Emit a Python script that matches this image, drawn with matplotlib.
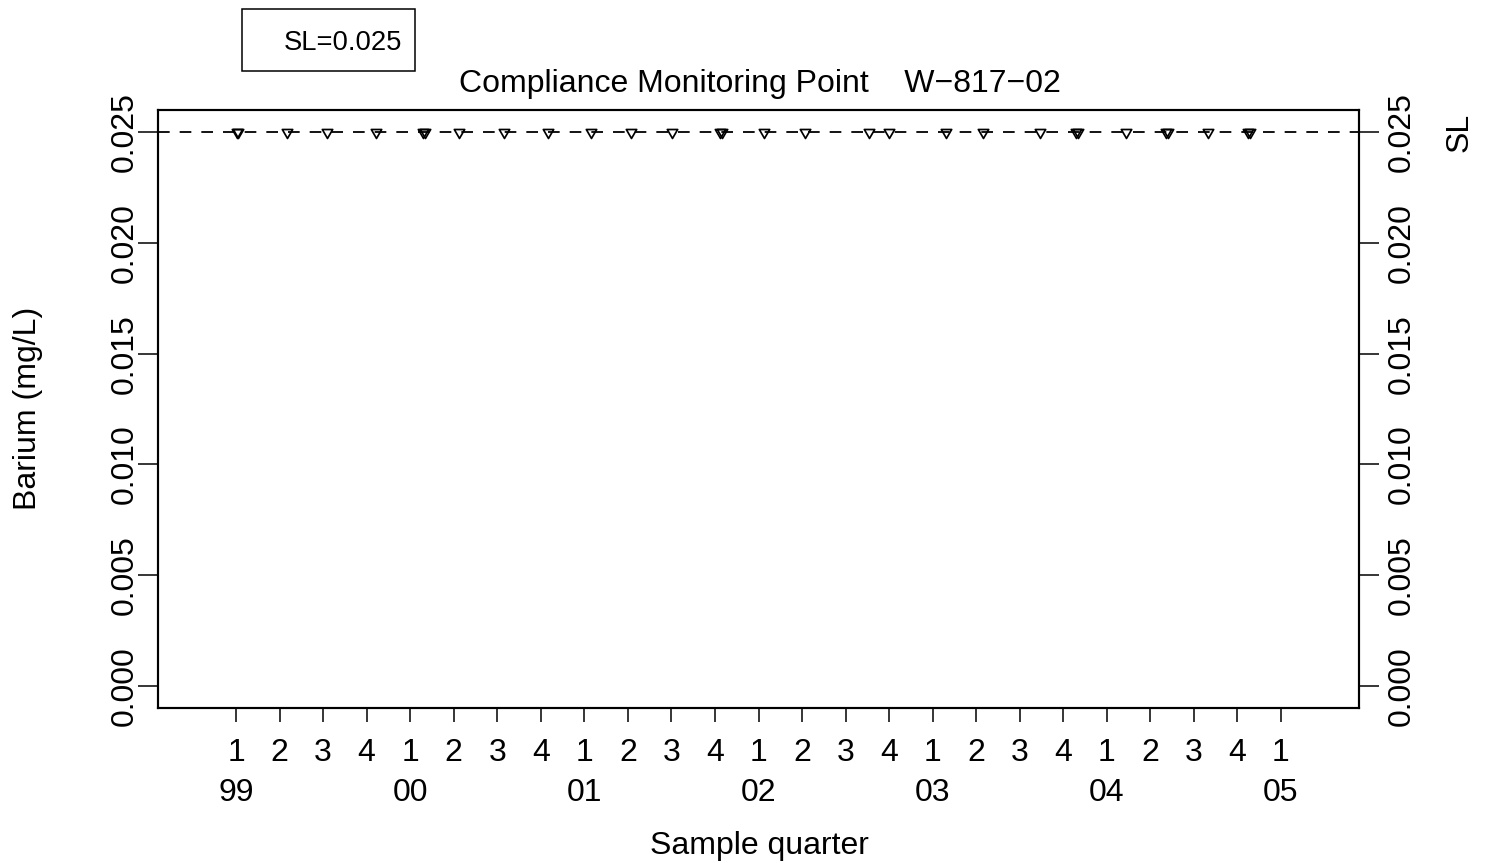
import matplotlib
matplotlib.use("Agg")
import matplotlib.pyplot as plt
import matplotlib.transforms as mtransforms
from matplotlib.path import Path
from matplotlib.patches import Rectangle

plt.rcParams['font.family'] = ['Liberation Sans', 'DejaVu Sans']
plt.rcParams['lines.scale_dashes'] = False

# ---------------- data ----------------
# sampling dates (decimal years), several dates are repeated samples
sample_times = [1999.003, 1999.011, 1999.293, 1999.522, 1999.804,
                2000.075, 2000.083, 2000.280, 2000.539, 2000.791,
                2001.038, 2001.268, 2001.503, 2001.781, 2001.789,
                2002.032, 2002.267, 2002.634, 2002.749, 2003.077,
                2003.289, 2003.616, 2003.825, 2003.833, 2004.110,
                2004.341, 2004.349, 2004.581, 2004.812, 2004.820]
barium_mgL = [0.025, 0.025, 0.025, 0.025, 0.025,
              0.025, 0.025, 0.025, 0.025, 0.025,
              0.025, 0.025, 0.025, 0.025, 0.025,
              0.025, 0.025, 0.025, 0.025, 0.025,
              0.025, 0.025, 0.025, 0.025, 0.025,
              0.025, 0.025, 0.025, 0.025, 0.025]
standard_limit = 0.025
years = [1999, 2000, 2001, 2002, 2003, 2004, 2005]
year_labels = ['99', '00', '01', '02', '03', '04', '05']
quarter_labels = ['1', '2', '3', '4']
y_ticks = [0.000, 0.005, 0.010, 0.015, 0.020, 0.025]
y_tick_labels = ['0.000', '0.005', '0.010', '0.015', '0.020', '0.025']
title = 'Compliance Monitoring Point    W\u2212817\u221202'

FS = 23
# ---------------- layout ----------------
W, H = 1486, 863
def fx(px): return px / W
def fy(py): return 1 - py / H

fig = plt.figure(figsize=(W / 100, H / 100), dpi=100)
L, R, T, B = 157.7, 1359.3, 110, 708
ax = fig.add_axes([fx(L), fy(B), (R - L) / W, (B - T) / H])
ax.set_xlim(1998.55, 2005.45)
ax.set_ylim(-0.001, 0.026)
for s in ax.spines.values():
    s.set_linewidth(1.5)

# quarter ticks
qpos, qlab = [], []
for y in years:
    for qi, q in enumerate(quarter_labels):
        p = y + qi / 4
        if p <= years[-1]:
            qpos.append(p)
            qlab.append(q)
ax.set_xticks(qpos)
ax.set_xticklabels(qlab)
ax.tick_params(axis='x', length=10.1, width=1.1, labelsize=FS, pad=28.1)
for lab in ax.get_xticklabels():
    lab.set_va('baseline')

# year labels below quarter digits
btr = mtransforms.blended_transform_factory(ax.transData, fig.transFigure)
for y, yl in zip(years, year_labels):
    ax.text(y, fy(801), yl, transform=btr, ha='center', va='baseline',
            fontsize=FS, clip_on=False)

# left y axis
ax.set_yticks(y_ticks)
ax.set_yticklabels(y_tick_labels)
ax.tick_params(axis='y', length=14.4, width=1.1, labelsize=FS, pad=3.6)
for lab in ax.get_yticklabels():
    lab.set_rotation(90)
    lab.set_rotation_mode('anchor')
    lab.set_ha('center')
    lab.set_va('baseline')

# right y axis
ax2 = ax.twinx()
ax2.set_ylim(ax.get_ylim())
ax2.set_yticks(y_ticks)
ax2.set_yticklabels(y_tick_labels)
ax2.tick_params(axis='y', length=14.4, width=1.1, labelsize=FS, pad=21.6)
for s in ax2.spines.values():
    s.set_linewidth(1.5)
for lab in ax2.get_yticklabels():
    lab.set_rotation(90)
    lab.set_rotation_mode('anchor')
    lab.set_ha('center')
    lab.set_va('baseline')

# standard limit line
ax.axhline(standard_limit, color='black', lw=1.3, dashes=(8.4, 7.2))

# data markers (open down triangles, R pch=6 geometry)
tri = Path([(-0.866, 0.5), (0.866, 0.5), (0.0, -1.0), (-0.866, 0.5)],
           [Path.MOVETO, Path.LINETO, Path.LINETO, Path.CLOSEPOLY])
ax.plot(sample_times, barium_mgL, linestyle='none', marker=tri,
        markersize=8.6, markerfacecolor='none', markeredgecolor='black',
        markeredgewidth=1.25, zorder=3)

# texts
fig.text(fx(759.5), fy(92), title, ha='center', va='baseline', fontsize=FS)
fig.text(fx(759.5), fy(853.5), 'Sample quarter', ha='center', va='baseline',
         fontsize=FS)
fig.text(fx(35.6), fy(408), 'Barium (mg/L)', rotation=90,
         rotation_mode='anchor', ha='center', va='baseline', fontsize=FS)
str_ = mtransforms.blended_transform_factory(fig.transFigure, ax.transData)
ax.text(fx(1468), standard_limit, 'SL', transform=str_, rotation=90,
        rotation_mode='anchor', ha='center', va='baseline', fontsize=FS,
        clip_on=False)

# legend box
fig.patches.append(Rectangle((fx(242.3), fy(70.7)), (415 - 242.3) / W,
                             (70.7 - 9.3) / H, transform=fig.transFigure,
                             fill=False, lw=1.1, ec='black'))
fig.text(fx(402.5), fy(50), 'SL=0.025', ha='right', va='baseline',
         fontsize=19.7)

fig.savefig('out.png', dpi=100)
